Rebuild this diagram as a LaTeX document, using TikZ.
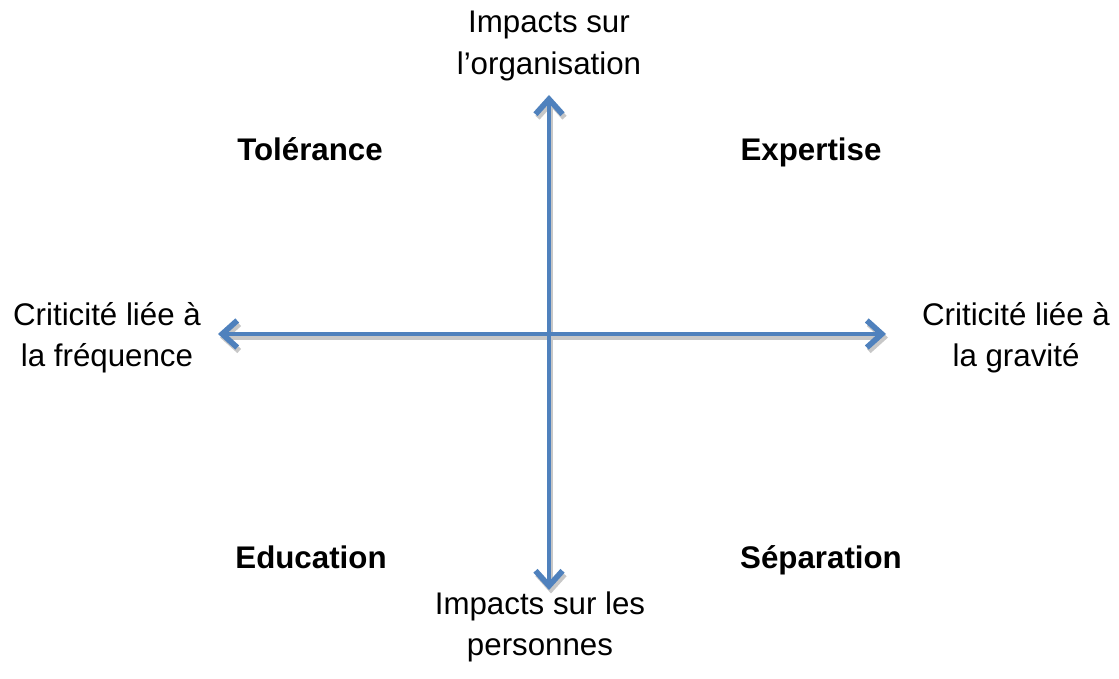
\documentclass[tikz,border=0pt]{standalone}
\usepackage{fontspec}
\setmainfont{Liberation Sans}
\usetikzlibrary{arrows.meta}

\tikzset{
  axe/.style={line width=2.8pt, draw={rgb,255:red,79;green,129;blue,189}, line cap=round,
    {Straight Barb[length=3mm,width=5.4mm,line width=3.2pt]}-{Straight Barb[length=3mm,width=5.4mm,line width=3.2pt]}},
  ombre/.style={axe, draw=black!22, transform canvas={shift={(0.04,-0.07)}}},
  etiq/.style={align=center, font=\fontsize{17.8}{23.4}\selectfont},
  zone/.style={anchor=base, font=\fontsize{17.8}{23.4}\selectfont\bfseries}
}

\begin{document}
\begin{tikzpicture}
\useasboundingbox (0,0) rectangle (22.38,13.58);

\coordinate (gauche) at (4.36,6.90); \coordinate (droite) at (17.72,6.90);
\coordinate (haut) at (10.98,11.68); \coordinate (bas) at (10.98,1.78);

% ombres puis axes
\draw [ombre] (gauche) -- (droite);
\draw [ombre] (bas) -- (haut);
\draw [axe] (gauche) -- (droite);
\draw [axe] (bas) -- (haut);

\node [etiq] (org) at (10.98,12.66) {Impacts sur\\l’organisation};
\node [etiq] (pers) at (10.80,1.04) {Impacts sur les\\personnes};
\node [etiq] (freq) at (2.14,6.82) {Criticité liée à\\la fréquence};
\node [etiq] (grav) at (20.32,6.82) {Criticité liée à\\la gravité};

\node [zone] (tol) at (6.20,10.36) {Tolérance};
\node [zone] (exp) at (16.22,10.36) {Expertise};
\node [zone] (edu) at (6.22,2.20) {Education};
\node [zone] (sep) at (16.42,2.20) {Séparation};

\end{tikzpicture}
\end{document}
